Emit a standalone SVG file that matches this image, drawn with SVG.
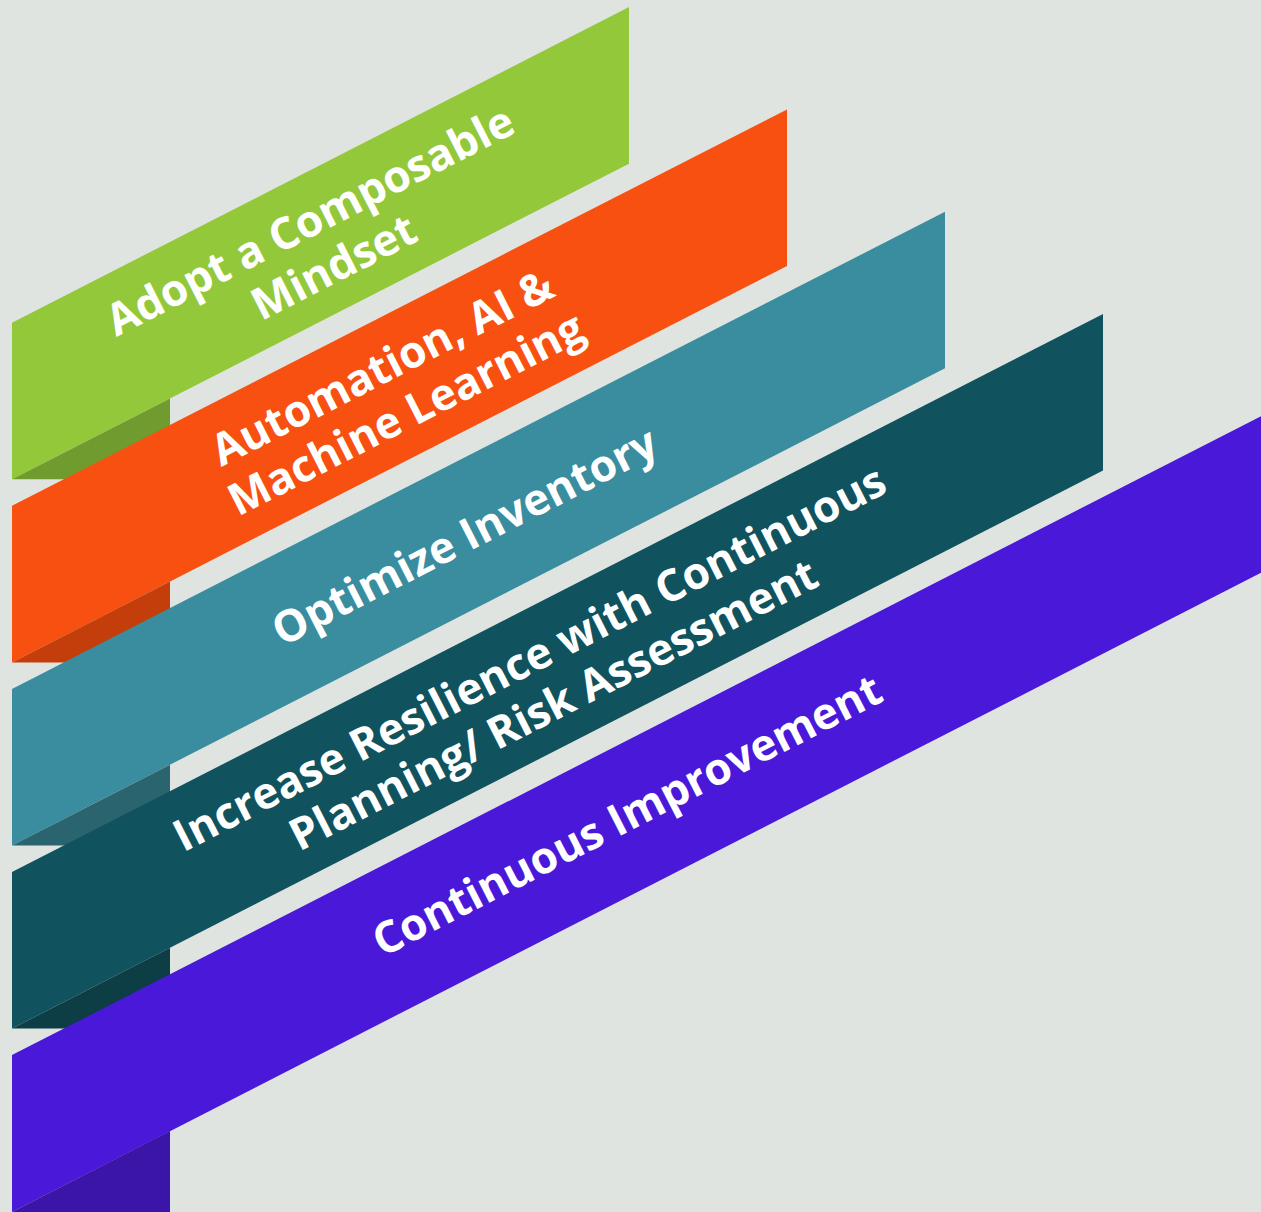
<svg xmlns="http://www.w3.org/2000/svg" width="1261" height="1212" viewBox="0 0 1261 1212">
  <style>
    .lbl { font-family: "Open Sans", "Liberation Sans", sans-serif; font-weight: 700; font-size: 44px; fill: #FFFFFF; text-anchor: middle; }
  </style>
  <rect x="0" y="0" width="1261" height="1212" fill="#E0E4E1"/>

  <g id="ribbon-composable">
    <polygon points="12,322.7 629,7.1 629,163.7 12,479.3" fill="#93C83B"/>
    <polygon points="12,479.3 170,398.5 170,479.3" fill="#709C2F"/>
    <text class="lbl" transform="translate(320.5,243.2) rotate(-27.09)"><tspan x="1" y="-9.5">Adopt a Composable</tspan><tspan x="1" y="42.5">Mindset</tspan></text>
  </g>

  <g id="ribbon-automation">
    <polygon points="12,505.8 787,109.4 787,266 12,662.4" fill="#F85010"/>
    <polygon points="12,662.4 170,581.6 170,662.4" fill="#C43E0C"/>
    <text class="lbl" transform="translate(399.5,385.9) rotate(-27.09)"><tspan x="-7" y="-9">Automation, AI &amp;</tspan><tspan x="-7" y="43">Machine Learning</tspan></text>
  </g>

  <g id="ribbon-inventory">
    <polygon points="12,688.9 945,211.7 945,368.3 12,845.5" fill="#398D9E"/>
    <polygon points="12,845.5 170,764.7 170,845.5" fill="#29646F"/>
    <text class="lbl" transform="translate(478.5,528.6) rotate(-27.09)"><tspan x="-16" y="16">Optimize Inventory</tspan></text>
  </g>

  <g id="ribbon-resilience">
    <polygon points="12,872 1103,314 1103,470.6 12,1028.6" fill="#10535E"/>
    <polygon points="12,1028.6 170,947.8 170,1028.6" fill="#0D3E46"/>
    <text class="lbl" transform="translate(557.5,671.3) rotate(-27.09)"><tspan x="-19" y="-9">Increase Resilience with Continuous</tspan><tspan x="-19" y="43">Planning/ Risk Assessment</tspan></text>
  </g>

  <g id="ribbon-improvement">
    <polygon points="12,1055.1 1261,416.2 1261,572.8 12,1212" fill="#4A18D9"/>
    <polygon points="12,1212 170,1130.9 170,1212" fill="#3B14A8"/>
    <text class="lbl" transform="translate(636.5,814) rotate(-27.09)"><tspan x="-9" y="12">Continuous Improvement</tspan></text>
  </g>
</svg>
